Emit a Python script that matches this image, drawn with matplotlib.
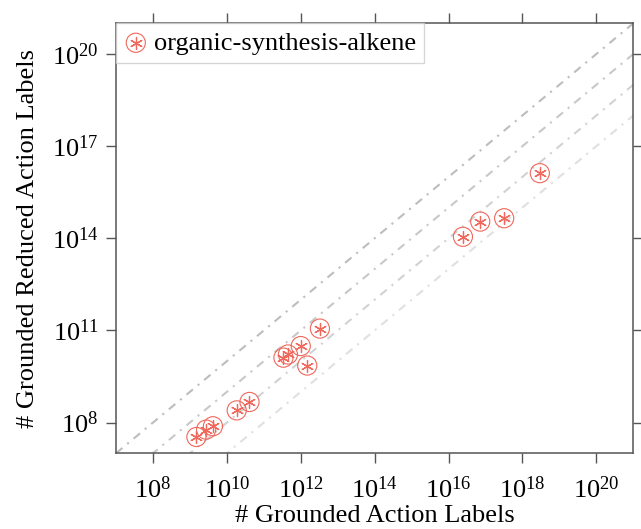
import matplotlib
matplotlib.use("Agg")
import matplotlib.pyplot as plt
import numpy as np

# ========================
# Data
# ========================
grounded = [1.5e9, 2.75e9, 4.2e9, 1.85e10, 4.1e10, 3.4e11, 4.5e11,
            1.0e12, 1.5e12, 3.3e12, 2.45e16, 7.2e16, 3.2e17, 2.95e18]
reduced = [3.4e7, 5.9e7, 7.6e7, 2.5e8, 4.7e8, 1.3e10, 1.65e10,
           3.1e10, 7.2e9, 1.15e11, 1.12e14, 3.5e14, 4.5e14, 1.32e16]
domain = "organic-synthesis-alkene"

ref_factors = [1, 10, 100, 1000]  # y = x / factor
ref_colors = ["#bdbdbd", "#c8c8c8", "#d2d2d2", "#e0e0e0"]

x_ticks = [1e8, 1e10, 1e12, 1e14, 1e16, 1e18, 1e20]
y_ticks = [1e8, 1e11, 1e14, 1e17, 1e20]

# ========================
# Style
# ========================
plt.rcParams["font.family"] = ["Liberation Serif", "DejaVu Serif"]
plt.rcParams["mathtext.fontset"] = "cm"
RED = "#f0675b"
EDGE = "#555555"
FS = 19
TICK_FS = 19

fig = plt.figure(figsize=(6.41, 5.29), dpi=100)
ax = fig.add_axes([116 / 641, 1 - 453.3 / 529, (633.3 - 116) / 641, (453.3 - 23.3) / 529])
ax.set_xscale("log")
ax.set_yscale("log")
ax.set_xlim(1e7, 1e21)
ax.set_ylim(1e7, 1e21)

# reference diagonals
xs = np.array([1e7, 1e21])
for f, c in zip(ref_factors, ref_colors):
    ax.plot(xs, xs / f, color=c, lw=1.5, dashes=(4, 3, 1, 3), zorder=1)

# markers: open circle with asterisk
CIRC = dict(s=190, facecolors="none", edgecolors=RED, linewidths=0.8)
STAR = dict(s=75, marker=(6, 2, 0), color=RED, linewidths=0.9)
ax.scatter(grounded, reduced, zorder=3, **CIRC)
ax.scatter(grounded, reduced, zorder=3, **STAR)

# legend handle built the same way
h1 = ax.scatter([], [], **CIRC)
h2 = ax.scatter([], [], **STAR)
leg = ax.legend([(h1, h2)], [domain], loc="upper left", fontsize=FS, frameon=True,
                fancybox=False, borderaxespad=0, handletextpad=0.25, handlelength=0.9,
                borderpad=0.3, edgecolor="#cccccc")
leg.get_frame().set_linewidth(1.0)

ax.set_xticks(x_ticks)
ax.set_yticks(y_ticks)
ax.minorticks_off()
ax.tick_params(axis="both", which="major", direction="out", length=7.5, width=1.0,
               color=EDGE, labelsize=TICK_FS, top=True, right=True, labeltop=False,
               labelright=False, pad=5)
ax.tick_params(axis="x", pad=9)
for s in ax.spines.values():
    s.set_color(EDGE)
    s.set_linewidth(1.1)

ax.set_xlabel("# Grounded Action Labels", fontsize=FS, labelpad=2)
ax.set_ylabel("# Grounded Reduced Action Labels", fontsize=FS, labelpad=9)

fig.savefig("out.png", dpi=100)
